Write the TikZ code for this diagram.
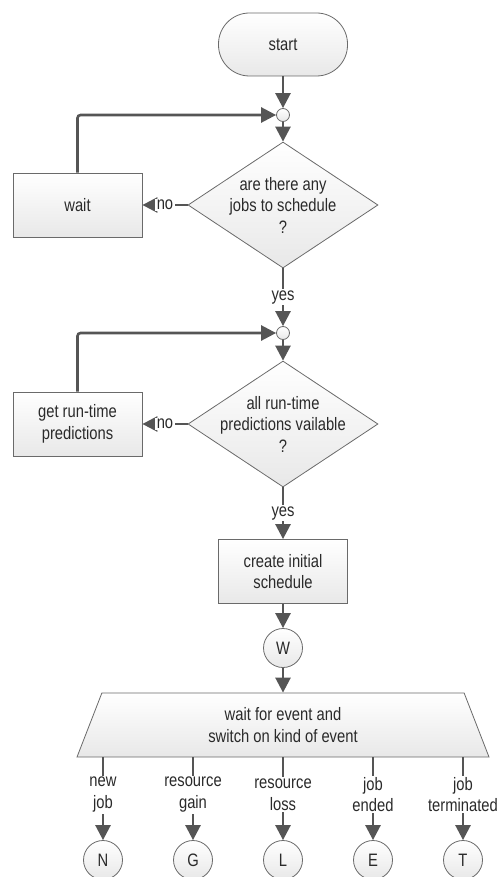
\documentclass[tikz,border=0pt]{standalone}
\usepackage{fontspec}
\setmainfont[FakeStretch=0.82]{Liberation Sans}
\usetikzlibrary{arrows.meta,shapes.geometric}
\definecolor{edgegray}{HTML}{555555}
\definecolor{bordergray}{HTML}{6A6A6A}
\definecolor{textgray}{HTML}{2A2A2A}
% a centred line of zero width, so long lines can spill past a shape's text box
\newcommand{\zline}[1]{\makebox[0pt]{#1}}
\begin{document}
\begin{tikzpicture}[x=1pt,y=-1pt,
  font=\fontsize{18}{21.5}\selectfont,
  every node/.style={text=textgray},
  shaded/.style={draw=bordergray,line width=0.8pt,top color=white,bottom color=black!9},
  procbox/.style={shaded,rectangle,minimum width=129,minimum height=64,align=center,inner sep=2pt},
  termbox/.style={shaded,rectangle,rounded corners=31pt,minimum width=129,minimum height=63},
  decision/.style={shaded,diamond,minimum width=190,minimum height=126,inner sep=0pt,align=center},
  junction/.style={shaded,circle,minimum size=13,inner sep=0pt},
  connector/.style={shaded,circle,minimum size=39,inner sep=0pt},
  switchbox/.style={shaded,trapezium,trapezium left angle=59,trapezium right angle=59,
    trapezium stretches body,minimum width=412,minimum height=64,align=center},
  flow/.style={draw=edgegray,line width=2.6pt,-{Triangle[length=15pt,width=15pt]}},
  lbl/.style={fill=white,inner sep=1.5pt,align=center,text=textgray}
]
\useasboundingbox (0,0) rectangle (498,877);

% main column
\node[termbox] (start) at (283,44.5) {start};
\node[junction] (j1) at (283,115) {};
\node[decision] (d1) at (283,205) {\zline{are there any}\\\zline{jobs to schedule}\\\zline{?}};
\node[procbox] (wait) at (77.5,205) {wait};
\node[junction] (j2) at (283,333) {};
\node[decision] (d2) at (283,424) {\zline{all run-time}\\\zline{predictions vailable}\\\zline{?}};
\node[procbox] (pred) at (77.5,424) {get run-time\\predictions};
\node[procbox] (init) at (283,571.5) {create initial\\schedule};
\node[connector] (W) at (283,648) {W};
\node[switchbox] (sw) at (283,725) {wait for event and\\switch on kind of event};

% event connectors
\node[connector] (N) at (103,860) {N};
\node[connector] (G) at (193,860) {G};
\node[connector] (L) at (283,860) {L};
\node[connector] (E) at (373,860) {E};
\node[connector] (T) at (463,860) {T};

% first loop
\path[flow] (start) -- (j1);
\path[flow] (j1) -- (d1);
\path[flow] (d1) -- node[lbl] {no} (wait);
\path[flow,rounded corners=3pt] (wait.north) |- (j1);
\path[flow] (d1) -- node[lbl] {yes} (j2);

% second loop
\path[flow] (j2) -- (d2);
\path[flow] (d2) -- node[lbl] {no} (pred);
\path[flow,rounded corners=3pt] (pred.north) |- (j2);
\path[flow] (d2) -- node[lbl] {yes} (init);

% event dispatch
\path[flow] (init) -- (W);
\path[flow] (W) -- (sw);
\foreach \c/\t in {N/{new\\job},G/{resource\\gain},L/{resource\\loss},E/{job\\ended},T/{job\\terminated}}{
  \path[flow] (\c |- sw.south) -- node[lbl,pos=0.45] {\t} (\c);
}
\end{tikzpicture}
\end{document}
